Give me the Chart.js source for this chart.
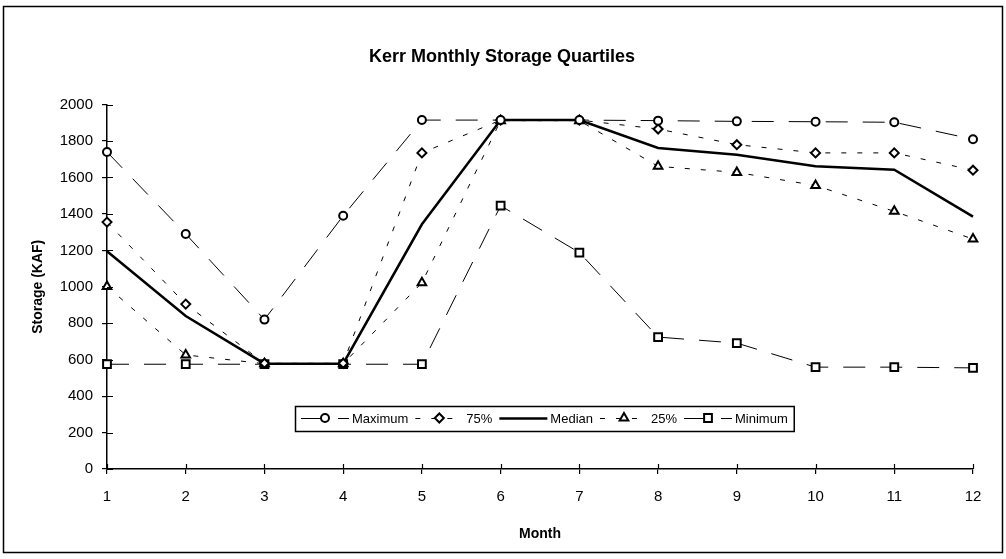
<!DOCTYPE html>
<html>
<head>
<meta charset="utf-8">
<script src="https://cdn.jsdelivr.net/npm/chart.js@4/dist/chart.umd.min.js"></script>
<style>
  html, body { margin: 0; padding: 0; background: #fff; }
  #wrap { position: relative; width: 1006px; height: 559px; }
</style>
</head>
<body>
<div id="wrap"><canvas id="c"></canvas></div>
<script>
// ---- data ----
const months = ['1','2','3','4','5','6','7','8','9','10','11','12'];
const maximum = [1740, 1290, 820, 1390, 1915, 1915, 1915, 1912, 1908, 1906, 1903, 1810];
const q75     = [1355, 905, 580, 580, 1735, 1915, 1915, 1866, 1780, 1735, 1735, 1640];
const median  = [1195, 840, 578, 578, 1343, 1915, 1915, 1762, 1725, 1662, 1643, 1385];
const q25     = [1002, 626, 578, 578, 1022, 1912, 1912, 1661, 1628, 1556, 1414, 1262];
const minimum = [575, 575, 575, 575, 575, 1445, 1188, 724, 691, 559, 559, 555];
const seriesNames = ['Maximum', '75%', 'Median', '25%', 'Minimum'];
const yTicks = { min: 0, max: 2000, step: 200 };

const FONT = "'Liberation Sans', Arial, Helvetica, sans-serif";
Chart.defaults.font.family = FONT;
Chart.defaults.color = '#000';

const LONG = [22, 15];
const SHORT = [5, 11];

function ds(label, data, opts) {
  return Object.assign({
    label, data,
    borderColor: '#000',
    backgroundColor: '#fff',
    borderWidth: 1,
    pointBorderColor: '#000',
    pointBackgroundColor: '#fff',
    pointBorderWidth: 2,
    tension: 0,
    fill: false
  }, opts);
}

const datasets = [
  ds(seriesNames[0], maximum, { borderDash: LONG, pointStyle: 'circle', pointRadius: 4 }),
  ds(seriesNames[1], q75, { borderDash: SHORT, pointStyle: 'rectRot', pointRadius: 4.5 }),
  ds(seriesNames[2], median, { borderWidth: 2.5, pointRadius: 0, pointStyle: false }),
  ds(seriesNames[3], q25, { borderDash: SHORT, pointStyle: 'triangle', pointRadius: 5 }),
  ds(seriesNames[4], minimum, { borderDash: LONG, pointStyle: 'rect', pointRadius: 5.5 })
];

// frame around the whole picture + inner half of crossing tick marks
const framePlugin = {
  id: 'frame',
  afterDraw(chart) {
    const ctx = chart.ctx;
    ctx.save();
    ctx.strokeStyle = '#000';
    ctx.lineWidth = 1.5;
    ctx.strokeRect(3.5, 6.5, 999, 546);
    const xs = chart.scales.x, ys = chart.scales.y;
    ctx.lineWidth = 1.2;
    ctx.beginPath();
    xs.ticks.forEach((t, i) => {
      const px = Math.round(xs.getPixelForTick(i)) + 0.5;
      ctx.moveTo(px, xs.top);
      ctx.lineTo(px, xs.top - 5);
    });
    ys.ticks.forEach((t, i) => {
      const py = Math.round(ys.getPixelForTick(i)) + 0.5;
      ctx.moveTo(ys.right, py);
      ctx.lineTo(ys.right + 6, py);
    });
    ctx.stroke();
    ctx.restore();
  }
};

// legend drawn as a box with line+marker samples, like the original
const legendPlugin = {
  id: 'lineLegend',
  afterDatasetsDraw(chart) {
    const ctx = chart.ctx;
    const sampleW = 48, gapA = 3, gapB = 7, pad = 6;
    ctx.save();
    ctx.font = '13px ' + FONT;
    const widths = chart.data.datasets.map(d => ctx.measureText(d.label).width);
    let total = pad * 2;
    widths.forEach((w, i) => { total += sampleW + gapA + w + (i < widths.length - 1 ? gapB : 0); });
    const cx = 544, cy = 418, h = 25;
    const left = Math.round(cx - total / 2), top = Math.round(cy - h / 2);
    ctx.fillStyle = '#fff';
    ctx.fillRect(left, top, total, h);
    ctx.strokeStyle = '#000';
    ctx.lineWidth = 1.5;
    ctx.strokeRect(left + 0.5, top + 0.5, total, h);
    let x = left + pad;
    chart.data.datasets.forEach((d, i) => {
      ctx.save();
      ctx.strokeStyle = d.borderColor;
      ctx.lineWidth = d.borderWidth;
      ctx.setLineDash(d.borderDash || []);
      ctx.beginPath();
      ctx.moveTo(x, cy + 0.5);
      ctx.lineTo(x + sampleW, cy + 0.5);
      ctx.stroke();
      ctx.restore();
      if (d.pointStyle && d.pointRadius) {
        ctx.save();
        ctx.setLineDash([]);
        ctx.fillStyle = '#fff';
        ctx.strokeStyle = '#000';
        ctx.lineWidth = d.pointBorderWidth;
        Chart.helpers.drawPoint(ctx, { pointStyle: d.pointStyle, radius: d.pointRadius, rotation: 0, borderWidth: d.pointBorderWidth }, x + sampleW / 2, cy);
        ctx.restore();
      }
      x += sampleW + gapA;
      ctx.fillStyle = '#000';
      ctx.textBaseline = 'middle';
      ctx.textAlign = 'left';
      ctx.fillText(d.label, x, cy + 1);
      x += widths[i] + gapB;
    });
    ctx.restore();
  }
};

new Chart(document.getElementById('c'), {
  type: 'line',
  data: { labels: months, datasets },
  plugins: [framePlugin, legendPlugin],
  options: {
    responsive: true,
    maintainAspectRatio: false,
    animation: false,
    events: [],
    layout: { padding: { left: 31, right: 33, top: 0, bottom: 0 } },
    plugins: {
      legend: { display: false },
      tooltip: { enabled: false },
      title: {
        display: true,
        text: 'Kerr Monthly Storage Quartiles',
        color: '#000',
        font: { size: 18, weight: 'bold' },
        padding: { top: 46, bottom: 37 }
      }
    },
    scales: {
      x: {
        type: 'category',
        offset: false,
        grid: { drawOnChartArea: false, tickLength: 5, color: '#000', lineWidth: 1.2 },
        border: { display: true, color: '#000', width: 1.5 },
        ticks: { font: { size: 15 }, padding: 14, maxRotation: 0, autoSkip: false, color: '#000' },
        title: { display: true, text: 'Month', color: '#000', font: { size: 14, weight: 'bold' }, padding: { top: 0, bottom: 16 } },
        afterFit(scale) { scale.height = 90; }
      },
      y: {
        min: yTicks.min,
        max: yTicks.max,
        grid: { drawOnChartArea: false, tickLength: 5, color: '#000', lineWidth: 1.2 },
        border: { display: true, color: '#000', width: 1.5 },
        ticks: {
          stepSize: yTicks.step,
          font: { size: 15 },
          padding: 9,
          color: '#000',
          callback: (v) => String(v)
        },
        title: { display: true, text: 'Storage (KAF)', color: '#000', font: { size: 14, weight: 'bold', lineHeight: 1 }, padding: 0 },
        afterFit(scale) { scale.width = 76; }
      }
    }
  }
});
</script>
</body>
</html>
